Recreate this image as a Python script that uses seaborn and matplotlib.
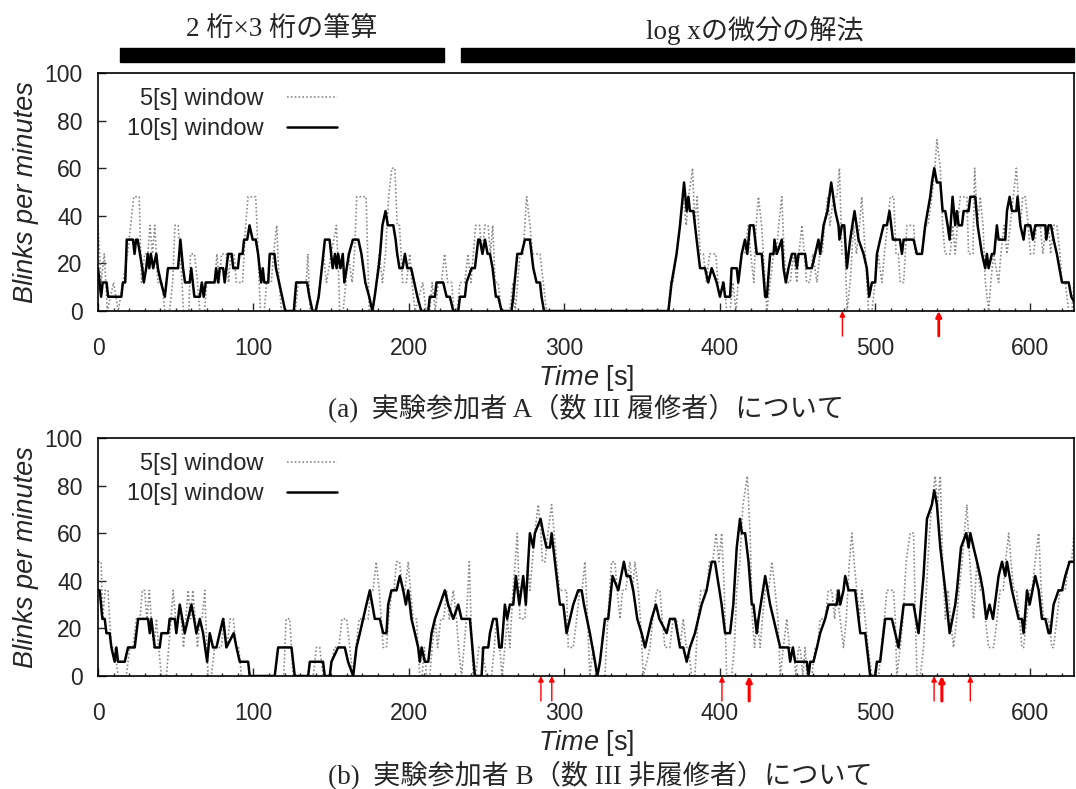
import matplotlib
matplotlib.use("Agg")
import matplotlib.pyplot as plt
import matplotlib.transforms as mtransforms
from matplotlib.patches import Rectangle
from matplotlib.ticker import MultipleLocator
import seaborn as sns

# ======================================
# 1. DATA
# ======================================
# (time [s], blinks per minute) breakpoints
a10_pts = [(0, 18), (2, 6), (3, 12), (5.5, 12), (6.5, 6), (15, 6), (16, 12), (17.5, 12), (18.5, 30), (22.5, 30),
           (23.5, 24), (24.5, 30), (25.5, 30), (27, 24), (28.5, 18), (29.5, 12), (31, 18), (32, 24), (33, 18),
           (34, 24), (35.5, 18), (37.5, 24), (38.5, 18), (40.5, 12), (43, 6), (45, 18), (51.5, 18), (53, 30),
           (54.7, 18), (56, 12), (59, 12), (60, 18), (62, 6), (65.5, 6), (66.8, 12), (68, 6), (69.3, 12), (75, 12),
           (76, 18), (77.3, 12), (78.3, 18), (80.5, 18), (81.5, 12), (82.6, 18), (83.7, 24), (86, 24), (87, 18),
           (90, 18), (91, 24), (93, 24), (94, 30), (96, 30), (97.5, 36), (99.5, 30), (101.5, 30), (103, 24),
           (104, 18), (105, 12), (106, 18), (107, 12), (109.5, 12), (110.5, 24), (113.5, 24), (114.5, 18),
           (116.5, 12), (118.5, 6), (120.5, 0), (126, 0), (127.5, 12), (134.5, 12), (136, 6), (138, 0), (140, 0),
           (142, 6), (144, 18), (146, 30), (149, 30), (151, 18), (152.5, 24), (153.5, 18), (154.5, 24), (156, 18),
           (157.5, 24), (158.5, 12), (160, 18), (161.5, 24), (164, 30), (167.5, 30), (169.5, 24), (172, 12),
           (174.5, 6), (176.5, 0), (178, 6), (180.5, 18), (181.5, 24), (183, 36), (185, 42), (186.5, 36), (190, 36),
           (191.5, 30), (192.5, 24), (194, 18), (196, 18), (197.5, 24), (199, 18), (201.5, 18), (203.5, 12),
           (205.5, 6), (208, 0), (212.5, 0), (213.5, 6), (216.8, 6), (217.8, 12), (222.1, 12), (224.3, 6),
           (226.4, 6), (228.6, 0), (231.8, 0), (232.9, 6), (236.1, 6), (237.1, 12), (240.4, 18), (242.5, 18),
           (244.7, 30), (245.7, 30), (247.4, 24), (249, 30), (250.7, 24), (252.2, 24), (253.9, 18), (256, 6),
           (257.5, 6), (259.7, 0), (266.1, 0), (267.2, 6), (269.8, 24), (272.5, 24), (274.7, 30), (277.9, 30),
           (280.1, 18), (282.2, 12), (284.4, 12), (285.4, 6), (287, 0), (367, 0), (369.1, 12), (372.3, 24),
           (374.5, 36), (377.1, 54), (378.8, 42), (379.9, 48), (380.9, 42), (383.1, 42), (385.2, 30), (387.4, 18),
           (390.6, 18), (392.7, 12), (394.9, 18), (398.1, 12), (400.2, 6), (402.4, 12), (403.5, 6), (406.7, 6),
           (407.7, 18), (411, 18), (412, 12), (414.2, 24), (416.3, 30), (417.8, 24), (419.5, 36), (421.8, 36),
           (423.9, 24), (427.1, 24), (429.3, 6), (430.4, 6), (432.5, 24), (434.7, 24), (435.3, 30), (436.8, 24),
           (440, 30), (441.1, 18), (442.6, 12), (444.3, 18), (446.5, 24), (448.6, 24), (449.7, 18), (450.8, 24),
           (455, 24), (456.1, 18), (459.3, 18), (461.5, 24), (463.6, 30), (464.7, 24), (466.9, 36), (469.4, 42),
           (471.8, 54), (474.4, 42), (476.5, 36), (477.1, 30), (478.7, 36), (480.2, 36), (481.9, 18), (484, 30),
           (486.8, 42), (489.4, 30), (492.6, 24), (494.7, 18), (496.2, 6), (498, 12), (500.1, 12), (501.2, 24),
           (503.3, 30), (505.5, 36), (507.6, 36), (509.3, 42), (511.5, 30), (516, 30), (517.3, 24), (518.4, 30),
           (524.8, 30), (526.9, 24), (530.2, 24), (532.3, 36), (535.5, 48), (536.6, 54), (538.1, 60), (539.8, 54),
           (542, 54), (543.5, 42), (545.2, 42), (546.7, 36), (548, 30), (549.9, 48), (551.6, 36), (552.7, 42),
           (553.8, 36), (555.9, 36), (557, 42), (560.2, 42), (561.3, 48), (564.5, 48), (566, 36), (568.8, 24),
           (570.9, 18), (572, 24), (573.1, 18), (575.2, 24), (576.7, 24), (578.4, 36), (579.5, 30), (583.8, 30),
           (584.9, 42), (586.6, 48), (588.1, 42), (590.9, 42), (591.7, 48), (593.5, 36), (595.6, 30), (596.7, 36),
           (599.9, 36), (601.6, 30), (603.1, 36), (609.6, 36), (610.2, 30), (611.7, 36), (613.2, 36), (614.9, 30),
           (617, 24), (620.3, 12), (624.6, 12), (626.3, 6), (628, 4)]

a5_pts = [(0, 36), (2, 12), (4, 24), (6, 0), (10, 12), (13, 0), (16, 12), (19, 24), (21, 36), (23, 48), (26.5, 48),
          (28, 12), (30, 24), (32, 24), (33.5, 36), (35, 24), (36.5, 36), (38.5, 12), (41, 12), (43, 0), (46, 0),
          (48, 12), (49.5, 36), (51.5, 36), (53, 24), (55, 0), (58.5, 0), (59.5, 24), (62, 24), (64, 12), (65.5, 0),
          (68.5, 0), (70, 12), (75, 12), (76.5, 24), (78, 12), (79.5, 24), (82.5, 24), (84, 12), (85.5, 24),
          (87.5, 24), (89, 12), (93, 12), (95, 36), (96.5, 48), (101.5, 48), (103, 24), (104.5, 0), (107, 0),
          (108.5, 12), (111.5, 12), (113, 24), (115, 36), (116.5, 12), (118, 0), (127, 0), (128.8, 12), (134, 12),
          (135, 24), (136.5, 0), (140.5, 0), (143, 12), (145, 24), (147, 12), (150, 24), (153.4, 36), (155, 12),
          (155.5, 0), (157.7, 0), (159.5, 12), (161, 24), (163.5, 12), (165, 24), (166.5, 48), (172.5, 48),
          (174, 12), (174.5, 0), (177, 0), (179, 12), (181, 24), (183, 12), (185, 24), (187, 48), (189, 60),
          (191, 60), (192.5, 36), (194, 36), (196, 12), (198.5, 12), (200.6, 24), (202, 12), (204, 0), (209, 12),
          (211, 0), (213.5, 0), (215, 12), (217, 0), (219, 12), (221, 12), (223, 24), (225, 12), (227.5, 12),
          (229, 0), (231, 0), (233, 12), (236, 12), (238, 24), (240, 12), (241.5, 24), (243, 36), (245.5, 36),
          (247, 24), (249, 36), (251, 36), (252.5, 24), (254, 36), (255.5, 12), (257.5, 12), (259.5, 0), (265, 0),
          (267, 12), (268.5, 0), (270, 12), (271.5, 24), (273.5, 24), (275.8, 48), (278, 36), (279.5, 24),
          (284.4, 24), (286.5, 12), (288.6, 0), (367, 0), (368.5, 12), (370, 12), (372, 24), (374.5, 36),
          (376.5, 48), (378.5, 36), (380, 48), (382.6, 60), (384, 36), (385.5, 48), (387.5, 24), (389.5, 24),
          (391.5, 12), (393.5, 24), (397.5, 24), (399, 12), (403, 12), (404.5, 0), (406.7, 0), (408.5, 12),
          (410.5, 0), (412, 12), (414, 24), (416, 24), (418.5, 36), (420, 24), (422, 12), (423.5, 36), (425, 48),
          (427, 36), (429.3, 12), (430.4, 0), (432.5, 12), (434.7, 24), (436.5, 24), (438, 36), (440, 48),
          (441.5, 24), (443, 12), (445.4, 12), (447.5, 24), (449.7, 12), (451, 24), (452.9, 36), (454.5, 24),
          (456, 12), (458, 12), (460, 24), (462.6, 12), (464.5, 24), (466, 24), (467.5, 36), (469.5, 48), (471, 36),
          (473.3, 48), (475.5, 48), (477.1, 60), (478.7, 24), (480.8, 24), (482, 0), (484, 12), (486.2, 36),
          (488, 24), (490, 36), (491.5, 48), (493.7, 24), (495.8, 0), (498, 0), (500, 12), (502, 24), (504.4, 12),
          (506, 24), (508, 36), (509.8, 48), (512, 48), (513.5, 24), (515, 24), (516.2, 12), (518.4, 12),
          (520.5, 36), (524.8, 36), (526, 24), (530.2, 24), (532, 36), (534, 36), (536.6, 48), (538.5, 60),
          (539.8, 72), (542, 60), (543.5, 36), (545, 24), (548.4, 24), (550, 36), (551.6, 24), (553, 36),
          (554.8, 48), (559.1, 48), (560.2, 24), (563, 24), (564.1, 60), (566, 36), (567.7, 48), (569.5, 36),
          (571, 12), (573.1, 0), (574.5, 12), (576.3, 24), (579.5, 12), (581, 24), (583, 36), (584.9, 24),
          (587, 36), (589, 48), (590.9, 60), (593.5, 36), (595, 48), (596.7, 48), (598.5, 36), (600, 24),
          (602, 24), (604, 36), (606.3, 36), (608, 24), (610, 36), (611.7, 36), (613, 24), (614.9, 36), (617, 36),
          (619, 24), (620.3, 12), (622.4, 12), (624.6, 0), (626.7, 0), (628, 12)]

b10_pts = [(0, 36), (1.1, 36), (2.8, 24), (4.3, 24), (5.4, 18), (7.5, 18), (8.6, 12), (10.7, 6), (11.8, 12),
           (12.9, 6), (17.2, 6), (19.3, 12), (23.6, 12), (25.8, 24), (32.2, 24), (33.3, 18), (34.3, 24), (35.4, 18),
           (36.5, 12), (39.7, 12), (40.8, 18), (45.1, 18), (46.1, 24), (49.4, 24), (50.4, 18), (52.6, 30),
           (55.8, 18), (57.9, 24), (60.1, 30), (61.8, 24), (63.3, 18), (65.5, 24), (67.6, 18), (70.2, 6),
           (71.9, 18), (74, 12), (76.2, 12), (78.3, 18), (80.5, 24), (82.6, 12), (87.3, 18), (89.1, 12), (91.2, 6),
           (96.6, 6), (97.6, 0), (113.7, 0), (115.9, 12), (124.5, 12), (126.6, 0), (135.2, 0), (136.3, 6),
           (144.8, 6), (145.9, 0), (149.1, 0), (150.2, 6), (154.5, 12), (158.8, 12), (160.9, 6), (164.2, 0),
           (166.3, 12), (168.5, 18), (172.7, 30), (174.9, 36), (178.1, 24), (181.3, 24), (183.5, 18), (185.6, 18),
           (186.7, 30), (188.8, 36), (192.1, 36), (194.2, 42), (196.4, 36), (198.1, 30), (199.6, 36), (201.7, 24),
           (203.9, 18), (206, 12), (207.1, 6), (208.2, 12), (210.3, 6), (212.5, 6), (214.6, 18), (216.8, 24),
           (220, 30), (223.2, 36), (225.3, 30), (228.6, 24), (231.8, 30), (233.9, 24), (239.3, 24), (242.5, 0),
           (246.8, 0), (247.9, 12), (251.1, 12), (252.2, 18), (254.3, 24), (256.5, 24), (258.2, 12), (259.7, 12),
           (261.8, 30), (263.3, 24), (265, 30), (267.2, 30), (268.9, 42), (271.1, 30), (273.6, 42), (275.3, 30),
           (276.8, 48), (277.9, 60), (280.1, 54), (281.1, 60), (284.8, 66), (286.5, 60), (288.6, 54), (290.8, 54),
           (291.9, 60), (294, 48), (297.2, 30), (299.4, 30), (301.5, 18), (303.7, 24), (305.8, 30), (309, 36),
           (311.2, 36), (312.7, 30), (316.5, 18), (319.8, 6), (321.3, 0), (323, 6), (326.2, 24), (328.3, 24),
           (331.1, 42), (334.8, 36), (338.4, 48), (340.1, 42), (342.3, 42), (344.4, 36), (347, 24), (349.8, 18),
           (352, 12), (354.1, 18), (356.2, 24), (359, 30), (361.2, 24), (365.9, 18), (368, 24), (371.3, 24),
           (374.5, 12), (376.6, 12), (378.8, 6), (380.9, 12), (384.1, 18), (388.4, 30), (391.6, 36), (394.9, 48),
           (397, 48), (401.3, 30), (403.5, 18), (406.7, 18), (408.8, 30), (411, 54), (413.1, 66), (414.3, 60),
           (416.4, 60), (418.6, 48), (420.7, 30), (421.8, 30), (423.9, 18), (425, 24), (429.3, 42), (432.5, 30),
           (434.7, 24), (436.8, 18), (439, 12), (444.3, 12), (445.4, 6), (447.1, 12), (448.6, 6), (456.1, 6),
           (457.2, 0), (458.3, 6), (460.4, 6), (462.6, 12), (464.7, 18), (467.9, 24), (470.1, 30), (475.4, 30),
           (476.5, 36), (477.6, 30), (479.7, 36), (480.8, 42), (483, 36), (487.2, 36), (490.5, 18), (493.7, 18),
           (495.8, 6), (496.9, 0), (500.1, 0), (501.2, 6), (503.3, 6), (506.5, 24), (510.8, 24), (513, 18),
           (515.1, 12), (518.4, 30), (524.8, 30), (528, 18), (531.2, 42), (533.4, 66), (536.6, 72), (538.1, 78),
           (539.8, 72), (542, 54), (545.2, 36), (548, 18), (551.6, 30), (552.7, 36), (555.3, 54), (558.7, 60),
           (560.2, 54), (561.3, 60), (563.4, 54), (565.6, 48), (567.7, 42), (569.4, 36), (571.6, 24), (573.7, 30),
           (575.9, 24), (579.5, 42), (581.7, 48), (583.8, 42), (584.9, 48), (588.1, 36), (592.4, 24), (594.5, 24),
           (595.6, 18), (597.8, 36), (599.5, 30), (603.1, 42), (605.3, 36), (607.4, 24), (609.6, 24), (611.7, 18),
           (612.8, 18), (614.9, 30), (618.1, 36), (620.3, 36), (622.4, 42), (625.2, 48), (628, 48)]

b5_pts = [(0, 48), (2, 48), (3, 24), (4.5, 36), (6.4, 36), (7.5, 24), (8.6, 12), (10.7, 12), (12.9, 0), (18.2, 0),
          (20.4, 12), (22.5, 12), (24.7, 24), (27, 24), (28.5, 36), (30, 36), (31.5, 24), (33, 36), (34.3, 24),
          (36, 12), (37.6, 24), (39, 12), (40.8, 0), (44, 0), (45.5, 12), (47, 24), (48.3, 36), (50, 24),
          (53.6, 24), (55, 12), (56.5, 24), (58, 36), (59.5, 24), (61, 36), (62.5, 24), (64, 12), (65.5, 24),
          (67, 24), (68.7, 36), (70, 12), (70.8, 0), (73, 0), (75, 12), (79.4, 12), (81, 24), (83, 12), (85, 24),
          (87, 24), (89, 12), (90.5, 12), (92.3, 0), (119.5, 0), (121, 24), (123.4, 24), (125.5, 0), (138.5, 0),
          (140.5, 12), (142.7, 12), (144.8, 0), (149, 0), (152, 12), (155, 12), (157, 24), (160, 24), (162, 12),
          (164, 0), (166, 12), (168, 24), (173.8, 24), (175.5, 36), (177, 36), (179, 48), (181, 36), (183.5, 12),
          (185.6, 12), (187, 24), (189, 36), (190.5, 36), (192, 48), (194, 48), (196, 36), (197.5, 36), (199.6, 48),
          (201, 36), (202.8, 24), (205, 24), (207, 0), (208.5, 0), (210, 12), (211.4, 0), (213.5, 0), (215, 12),
          (217, 24), (218.5, 12), (220.5, 24), (222.5, 24), (224.3, 36), (226, 24), (228.6, 36), (230.7, 24),
          (232, 12), (233.9, 0), (235.5, 12), (237, 24), (238.9, 48), (240, 24), (241.4, 0), (243, 0), (245, 12),
          (247, 12), (250, 0), (253.2, 0), (255, 12), (256.5, 24), (258.5, 12), (260, 0), (261.8, 12), (263.5, 24),
          (265, 12), (267, 36), (268.5, 48), (269.8, 60), (271.5, 24), (274.7, 24), (276.5, 48), (277.9, 36),
          (279.5, 48), (281, 60), (283.3, 72), (285, 60), (286, 48), (287.6, 48), (289.5, 60), (291.9, 72),
          (293.5, 60), (295.1, 48), (297, 36), (301.5, 36), (302.6, 12), (305.8, 12), (308, 24), (310, 36),
          (311.5, 36), (313.3, 48), (315, 24), (316.5, 0), (318.7, 12), (320.5, 0), (326.2, 0), (328, 24),
          (330.5, 48), (332.6, 48), (334, 36), (335.9, 24), (337.5, 36), (339.5, 36), (342.3, 48), (344, 36),
          (345.5, 48), (347.7, 36), (349, 24), (350.9, 0), (355.2, 12), (357, 24), (359.5, 36), (361.6, 36),
          (363, 24), (364.8, 12), (368, 12), (370, 24), (372.3, 24), (374.5, 12), (376.6, 24), (378.5, 12),
          (380, 12), (382, 0), (384.1, 0), (386, 24), (388, 36), (391.6, 36), (393.5, 48), (395.5, 48), (397.7, 60),
          (399.5, 48), (401.3, 60), (403, 36), (404.5, 0), (407.7, 0), (409.5, 12), (411, 36), (413, 48), (415, 72),
          (417.8, 84), (419.6, 60), (421, 24), (422.5, 12), (424, 24), (426.1, 12), (427.5, 24), (429.3, 36),
          (431.5, 36), (433.6, 48), (435.7, 36), (437.5, 24), (439, 0), (441, 12), (443.2, 24), (445, 12),
          (447.5, 12), (449, 0), (450.8, 12), (451.8, 12), (453.5, 0), (455, 12), (456.1, 0), (459.3, 0),
          (461.5, 12), (463, 12), (464.7, 24), (467.9, 24), (470, 36), (472.2, 36), (474, 24), (475.4, 36),
          (477.5, 24), (479.7, 12), (481.5, 24), (483.5, 48), (485.1, 60), (486.5, 48), (488.3, 36), (490, 24),
          (491.5, 36), (493.7, 24), (495.5, 12), (498, 0), (502.3, 0), (504, 12), (506, 24), (507.6, 36),
          (511.9, 36), (513, 24), (514, 0), (516.2, 12), (518, 24), (520, 48), (522.6, 60), (524.8, 60), (526, 24),
          (527, 0), (529.1, 0), (531.2, 12), (533, 36), (535, 60), (536.5, 72), (538.7, 84), (540.2, 72), (542, 84),
          (543.5, 48), (545.2, 24), (547, 36), (548.5, 24), (550.5, 12), (552.5, 24), (554, 36), (556, 48),
          (557.5, 60), (559.1, 72), (561, 48), (563.4, 24), (565.5, 48), (567.7, 36), (569.5, 36), (571, 24),
          (573.1, 12), (576.3, 12), (578.5, 24), (580.5, 36), (582.5, 36), (584, 48), (586, 60), (587.5, 48),
          (589.2, 36), (591, 36), (593, 24), (594.5, 12), (595.6, 12), (597.5, 24), (599.5, 36), (601, 36),
          (603, 48), (605.3, 60), (607, 36), (608.5, 24), (611.7, 24), (613.8, 12), (614.9, 12), (617, 24),
          (619, 36), (622.4, 36), (624.5, 48), (626.5, 48), (628, 60)]

# red arrows under the time axis (time [s], line width)
arrows_a = [(479, 1.0), (541, 2.0)]
arrows_b = [(285, 1.0), (292, 1.0), (401.5, 1.0), (419, 2.2), (538, 1.0), (543, 2.2), (561.3, 1.0)]

# task phases shown above panel (a)
phase_labels = ["2 桁×3 桁の筆算", "log xの微分の解法"]
phase_start = [14, 233.5]
phase_end = [222.6, 628]

captions = ["(a)  実験参加者 A（数 III 履修者）について",
            "(b)  実験参加者 B（数 III 非履修者）について"]

# ======================================
# 2. STYLE
# ======================================
sns.set_style("ticks")
plt.rcParams['font.family'] = ['Liberation Sans', 'Noto Sans CJK JP']
plt.rcParams['mathtext.fontset'] = 'custom'
plt.rcParams['mathtext.it'] = 'Liberation Sans:italic'
plt.rcParams['mathtext.rm'] = 'Liberation Sans'
serif_jp = ['Liberation Serif', 'Noto Sans CJK JP']

fig = plt.figure(figsize=(10.76, 7.89), dpi=100)
ax_a = fig.add_axes([0.0911, 0.6058, 0.907, 0.3017])
ax_b = fig.add_axes([0.0911, 0.1432, 0.907, 0.3017])


def draw_panel(ax, pts5, pts10, arrows):
    t5, v5 = zip(*pts5)
    t10, v10 = zip(*pts10)
    sns.lineplot(x=list(t5), y=list(v5), ax=ax, estimator=None, sort=False,
                 color="#8a8a8a", linewidth=1.2, linestyle=(0, (1, 1.3)), label="5[s] window")
    sns.lineplot(x=list(t10), y=list(v10), ax=ax, estimator=None, sort=False,
                 color="black", linewidth=1.8, label="10[s] window")
    ax.set_xlim(0, 628)
    ax.set_ylim(0, 100)
    ax.xaxis.set_major_locator(MultipleLocator(100))
    ax.xaxis.set_minor_locator(MultipleLocator(10))
    ax.yaxis.set_major_locator(MultipleLocator(20))
    ax.tick_params(axis="both", which="major", direction="in", length=6, width=1, labelsize=16.5)
    ax.tick_params(axis="x", which="major", pad=19)
    ax.tick_params(axis="y", which="major", pad=11)
    ax.tick_params(axis="x", which="minor", direction="in", length=2.5, width=1)
    for sp in ax.spines.values():
        sp.set_visible(True)
        sp.set_linewidth(1.2)
        sp.set_color("black")
    ax.set_xlabel(r"$\mathit{Time}$ [s]", fontsize=19.5, labelpad=2)
    ax.set_ylabel("Blinks per minutes", fontsize=19.5, fontstyle="italic", labelpad=4)
    ax.legend(loc="upper left", bbox_to_anchor=(0.02, 0.975), markerfirst=False, frameon=False,
              fontsize=17, handlelength=2.1, handletextpad=1.0, labelspacing=0.33, borderaxespad=0)
    for t, lw in arrows:
        ax.annotate("", xy=(t, 0), xycoords=("data", "axes fraction"),
                    xytext=(t, -0.105), textcoords=("data", "axes fraction"),
                    arrowprops=dict(arrowstyle="-|>", color="red", lw=lw,
                                    mutation_scale=8, shrinkA=0, shrinkB=0),
                    annotation_clip=False)


draw_panel(ax_a, a5_pts, a10_pts, arrows_a)
draw_panel(ax_b, b5_pts, b10_pts, arrows_b)

# ======================================
# 3. PHASE BARS AND CAPTIONS
# ======================================
trans = mtransforms.blended_transform_factory(ax_a.transData, fig.transFigure)
for s, e in zip(phase_start, phase_end):
    ax_a.add_patch(Rectangle((s, 1 - 62 / 789), e - s, 14 / 789, transform=trans,
                             facecolor="black", edgecolor="black", clip_on=False))
fig.text(282 / 1076, 1 - 30 / 789, phase_labels[0], ha="center", va="center", fontsize=19.5, family=serif_jp)
fig.text(755 / 1076, 1 - 30 / 789, phase_labels[1], ha="center", va="center", fontsize=19.5, family=serif_jp)

fig.text(328 / 1076, 1 - 409 / 789, captions[0], ha="left", va="center", fontsize=19.5, family=serif_jp)
fig.text(328 / 1076, 1 - 776 / 789, captions[1], ha="left", va="center", fontsize=19.5, family=serif_jp)

fig.savefig("out.png", dpi=100)
